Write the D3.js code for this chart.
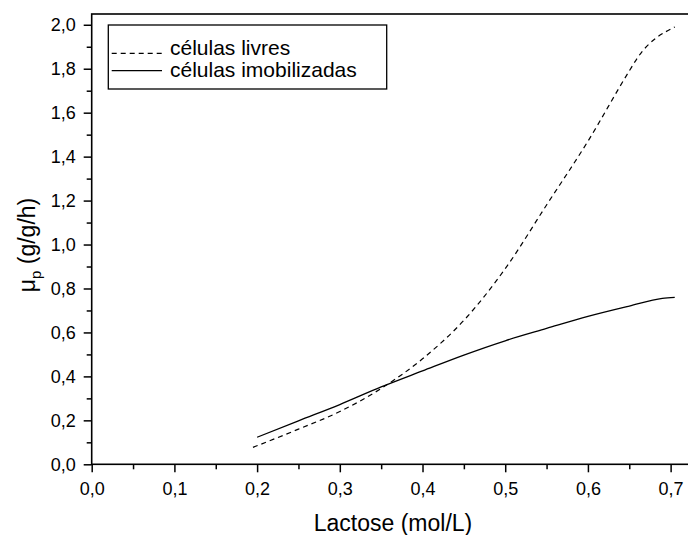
<!DOCTYPE html>
<html>
<head>
<meta charset="utf-8">
<script src="https://cdn.jsdelivr.net/npm/d3@7"></script>
<style>
  html, body { margin: 0; padding: 0; background: #fff; }
  svg { display: block; }
  text { font-family: "Liberation Sans", Arial, sans-serif; fill: #000; }
</style>
</head>
<body>
<svg id="chart" width="688" height="535"></svg>
<script>
// Specific product formation rate vs. lactose concentration
const lactoseFree = [0.195, 0.25, 0.30, 0.35, 0.40, 0.45, 0.50, 0.55, 0.60, 0.65, 0.66, 0.705];
const muFree      = [0.077, 0.16, 0.24, 0.345, 0.48, 0.655, 0.89, 1.18, 1.47, 1.79, 1.85, 1.99];

const lactoseImmob = [0.20, 0.25, 0.30, 0.35, 0.40, 0.45, 0.50, 0.55, 0.60, 0.65, 0.69, 0.705];
const muImmob      = [0.123, 0.198, 0.272, 0.352, 0.425, 0.497, 0.562, 0.618, 0.673, 0.72, 0.755, 0.76];

const seriesNames = ["células livres", "células imobilizadas"];
const xTicks = [0, 0.1, 0.2, 0.3, 0.4, 0.5, 0.6, 0.7];
const yTicks = [0, 0.2, 0.4, 0.6, 0.8, 1.0, 1.2, 1.4, 1.6, 1.8, 2.0];
const xMinorTicks = [0.05, 0.15, 0.25, 0.35, 0.45, 0.55, 0.65];
const yMinorTicks = [0.1, 0.3, 0.5, 0.7, 0.9, 1.1, 1.3, 1.5, 1.7, 1.9];

const svg = d3.select("#chart");
const plotL = 91.7, plotR = 691.3, plotT = 14, plotB = 464.3;

const x = d3.scaleLinear().domain([0, 0.725]).range([plotL, plotR]);
const y = d3.scaleLinear().domain([0, 2.049]).range([plotB, plotT]);

const fmt = d => d.toFixed(1).replace(".", ",");
const tickFont = 18;

// Frame
svg.append("rect")
  .attr("x", plotL).attr("y", plotT)
  .attr("width", plotR - plotL).attr("height", plotB - plotT)
  .attr("fill", "none").attr("stroke", "#000").attr("stroke-width", 1.6);

// Bottom axis
const xAxis = svg.append("g").attr("transform", `translate(0,${plotB})`)
  .call(d3.axisBottom(x).tickValues(xTicks).tickSize(8).tickPadding(10).tickFormat(fmt));
xAxis.select(".domain").remove();
xAxis.selectAll("line").attr("stroke-width", 1.5);
xAxis.selectAll("text").attr("font-size", tickFont).style("font-family", "Liberation Sans, Arial, sans-serif");
svg.append("g").attr("transform", `translate(0,${plotB})`)
  .call(d3.axisBottom(x).tickValues(xMinorTicks).tickSize(5).tickFormat(""))
  .call(g => g.select(".domain").remove())
  .selectAll("line").attr("stroke-width", 1.5);

// Left axis
const yAxis = svg.append("g").attr("transform", `translate(${plotL},0)`)
  .call(d3.axisLeft(y).tickValues(yTicks).tickSize(8).tickPadding(8).tickFormat(fmt));
yAxis.select(".domain").remove();
yAxis.selectAll("line").attr("stroke-width", 1.5);
yAxis.selectAll("text").attr("font-size", tickFont).style("font-family", "Liberation Sans, Arial, sans-serif");
svg.append("g").attr("transform", `translate(${plotL},0)`)
  .call(d3.axisLeft(y).tickValues(yMinorTicks).tickSize(5).tickFormat(""))
  .call(g => g.select(".domain").remove())
  .selectAll("line").attr("stroke-width", 1.5);

// Curves
const line = d3.line().x(d => x(d[0])).y(d => y(d[1])).curve(d3.curveMonotoneX);
svg.append("path")
  .datum(d3.zip(lactoseFree, muFree))
  .attr("d", line).attr("fill", "none").attr("stroke", "#000")
  .attr("stroke-width", 1.2).attr("stroke-dasharray", "5,4");
svg.append("path")
  .datum(d3.zip(lactoseImmob, muImmob))
  .attr("d", line).attr("fill", "none").attr("stroke", "#000")
  .attr("stroke-width", 1.3);

// Axis titles
svg.append("text").attr("x", 393).attr("y", 531).attr("text-anchor", "middle")
  .attr("font-size", 23).text("Lactose (mol/L)");
const yt = svg.append("text").attr("transform", "translate(35,245) rotate(-90)")
  .attr("text-anchor", "middle").attr("font-size", 23);
yt.append("tspan").text("μ");
yt.append("tspan").attr("dy", 6).attr("font-size", 15).text("p");
yt.append("tspan").attr("dy", -6).text(" (g/g/h)");

// Legend
const lg = svg.append("g");
lg.append("rect").attr("x", 108.3).attr("y", 25).attr("width", 278.4).attr("height", 64)
  .attr("fill", "#fff").attr("stroke", "#000").attr("stroke-width", 1.3);
const legendRows = [{ dash: "5,4", ly: 53.3, ty: 54.5 }, { dash: null, ly: 70.7, ty: 77 }];
legendRows.forEach((r, i) => {
  lg.append("line").attr("x1", 111.7).attr("x2", 162).attr("y1", r.ly).attr("y2", r.ly)
    .attr("stroke", "#000").attr("stroke-width", 1.2)
    .attr("stroke-dasharray", r.dash);
  lg.append("text").attr("x", 170).attr("y", r.ty).attr("font-size", 21)
    .text(seriesNames[i]);
});
</script>
</body>
</html>
